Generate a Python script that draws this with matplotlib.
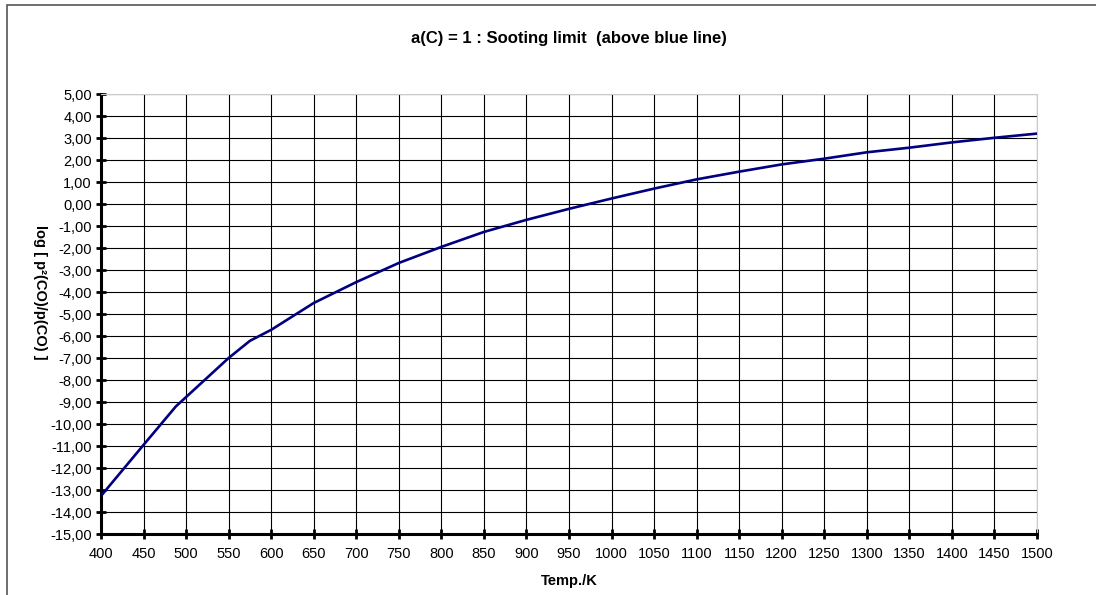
"""Sooting limit a(C) = 1: log[p²(CO)/p(CO)] vs. temperature."""

import matplotlib
matplotlib.use("Agg")
import matplotlib.pyplot as plt
from matplotlib.patches import Rectangle
from matplotlib.ticker import FuncFormatter, MultipleLocator

plt.rcParams["font.family"] = ["Liberation Sans", "DejaVu Sans"]

temp_k = [400, 450, 488, 550, 575, 600, 650, 700, 750, 800, 850, 900, 950,
          1000, 1050, 1100, 1150, 1200, 1250, 1300, 1350, 1400, 1450, 1500]
log_ratio = [-13.27, -10.95, -9.2, -7.0, -6.22, -5.72, -4.5, -3.55, -2.68,
             -1.95, -1.27, -0.72, -0.22, 0.25, 0.7, 1.12, 1.47, 1.8, 2.06,
             2.35, 2.56, 2.8, 3.01, 3.2]


def comma_fmt(v, _pos):
    return f"{v:.2f}".replace(".", ",")


fig = plt.figure(figsize=(10.96, 5.95), dpi=100)
fig.patches.append(Rectangle((7 / 1096, -0.01), 1.02, 1 - 5 / 595 + 0.01,
                             transform=fig.transFigure, fill=False,
                             edgecolor="#555555", linewidth=1.2))
ax = fig.add_axes([101 / 1096, 61 / 595, 936 / 1096, 440 / 595])

ax.plot(temp_k, log_ratio, color="#000080", linewidth=1.9, zorder=3)

ax.set_xlim(400, 1500)
ax.set_ylim(-15, 5)
ax.xaxis.set_major_locator(MultipleLocator(50))
ax.yaxis.set_major_locator(MultipleLocator(1))
ax.yaxis.set_major_formatter(FuncFormatter(comma_fmt))
ax.grid(True, color="black", linewidth=0.8)
ax.set_axisbelow(True)

for side in ("top", "right"):
    ax.spines[side].set_color("#cccccc")
    ax.spines[side].set_linewidth(0.8)
for side in ("left", "bottom"):
    ax.spines[side].set_color("black")
    ax.spines[side].set_linewidth(2.2)
ax.tick_params(direction="inout", length=7, width=2, labelsize=10.5,
               colors="black")
ax.tick_params(axis="x", pad=6)
ax.tick_params(axis="y", pad=3)

ax.set_title("a(C) = 1 : Sooting limit  (above blue line)",
             fontsize=12, fontweight="bold", pad=37)
ax.set_xlabel("Temp./K", fontsize=10.5, fontweight="bold", labelpad=9)
# label reads top-to-bottom in the original
fig.text(40 / 1096, 1 - 292 / 595, "log [ p²(CO)/p(CO) ]", rotation=270,
         ha="center", va="center", fontsize=10.5, fontweight="bold")

fig.savefig("out.png", dpi=100)
